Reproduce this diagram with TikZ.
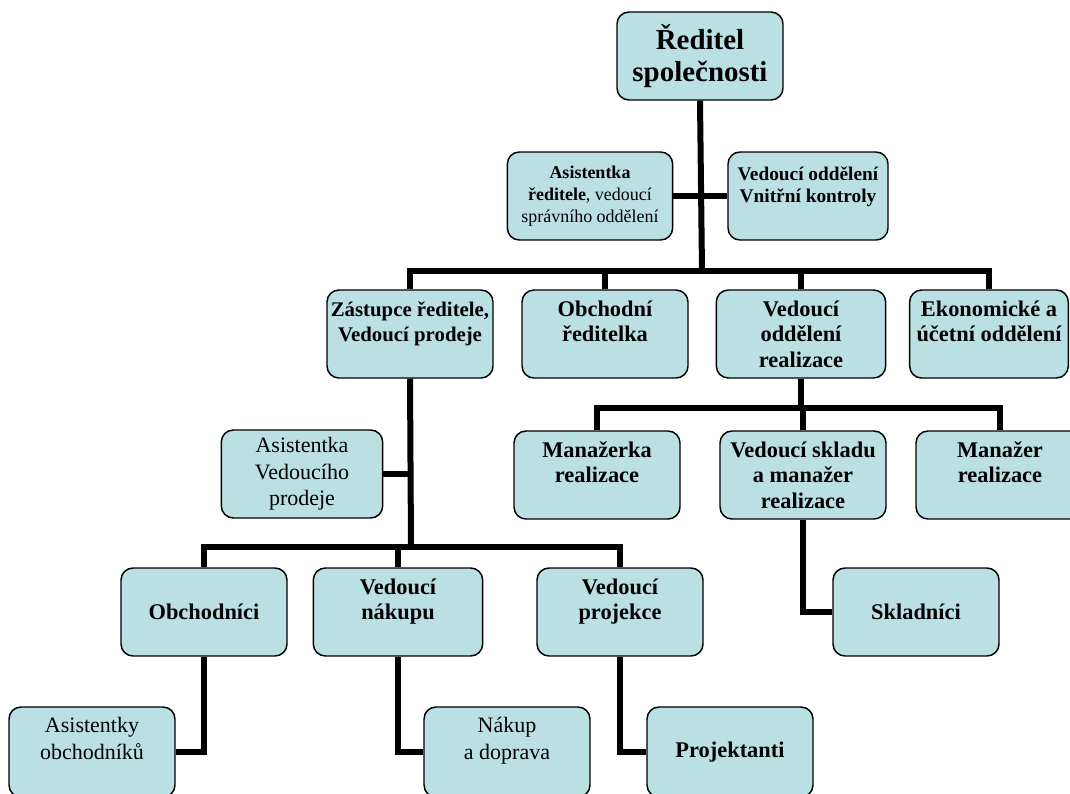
\documentclass[tikz,border=0pt]{standalone}
\usepackage{fontspec}
\setmainfont{Liberation Serif}
\usetikzlibrary{positioning,backgrounds}
\definecolor{boxblue}{RGB}{187,224,227}

\begin{document}
\begin{tikzpicture}[x=0.75pt,y=-0.75pt,
  box/.style={draw,fill=boxblue,rounded corners=9pt,line width=1.1pt,align=center,
    minimum width=124.5pt,minimum height=66pt,inner sep=2pt,
    font=\bfseries\fontsize{16.8}{19}\selectfont},
  plain/.style={font=\fontsize{16.5}{20}\selectfont},
  conn/.style={line width=4.5pt}]
   \useasboundingbox (0,0) rectangle (1070,793);
   \clip (0,0) rectangle (1070,793);
   % top
   \node[box,font=\bfseries\fontsize{21.7}{24}\selectfont] (dir) at (700,56) {Ředitel\\společnosti};
   \node[box,minimum width=124pt,font=\fontsize{13.5}{16.5}\selectfont] (asist) at (590,196)
        {\textbf{Asistentka}\\\textbf{ředitele}, vedoucí\\správního oddělení};
   \node[box,minimum width=120pt,font=\bfseries\fontsize{14.5}{17}\selectfont] (kontrola) at (808,196)
        {Vedoucí oddělení\\Vnitřní kontroly\\~};
   % second row
   \node[box,font=\bfseries\fontsize{15.6}{18.5}\selectfont] (zast) at (410,334) {Zástupce ředitele,\\Vedoucí prodeje\\~};
   \node[box]                   (obch)   at (605,334)  {Obchodní\\ředitelka\\~};
   \node[box,minimum width=127pt] (real) at (801,334)  {Vedoucí\\oddělení\\realizace};
   \node[box,minimum width=119pt] (ekon) at (989,334)  {Ekonomické a\\účetní oddělení\\~};
   % realizace
   \node[box]                   (manazerka) at (597,475) {Manažerka\\realizace\\~};
   \node[box]                   (sklad)     at (803,475) {Vedoucí skladu\\a manažer\\realizace};
   \node[box,minimum width=126pt] (manazer) at (1000,475) {Manažer\\realizace\\~};
   \node[box]                   (skladnici) at (916,612) {Skladníci};
   % prodej
   \node[box,plain,minimum width=121pt] (asistvp) at (302,474) {Asistentka\\Vedoucího\\prodeje};
   \node[box]                   (obchodnici) at (204,612) {Obchodníci};
   \node[box,minimum width=127pt] (nakup)  at (398,612) {Vedoucí\\nákupu\\~};
   \node[box]                   (projekce)   at (620,612) {Vedoucí\\projekce\\~};
   \node[box,plain,minimum height=67.5pt] (asistobch) at (92,752) {Asistentky\\obchodníků\\~};
   \node[box,plain,minimum height=67.5pt] (nakupdopr) at (507,752) {Nákup\\a doprava\\~};
   \node[box,minimum height=67.5pt]  (projektanti)   at (730,752) {Projektanti};

   \coordinate (b1) at (702,271);
   \coordinate (b2) at (801,408);
   \coordinate (b3) at (411,547);
   \coordinate (a3) at (411,474);
   \begin{scope}[on background layer]
    \draw[conn] (dir.south) -- (b1);
    \draw[conn] (asist.east) -- (kontrola.west);
    \draw[conn] (b1) -| (zast.north);
    \draw[conn] (b1) -| (obch.north);
    \draw[conn] (b1) -| (real.north);
    \draw[conn] (b1) -| (ekon.north);
    \draw[conn] (real.south) -- (b2);
    \draw[conn] (b2) -| (manazerka.north);
    \draw[conn] (b2) -| (sklad.north);
    \draw[conn] (b2) -| (manazer.north);
    \draw[conn] (sklad.south) |- (skladnici.west);
    \draw[conn] (zast.south) -- (b3);
    \draw[conn] (asistvp.east) -- (a3);
    \draw[conn] (b3) -| (obchodnici.north);
    \draw[conn] (b3) -| (nakup.north);
    \draw[conn] (b3) -| (projekce.north);
    \draw[conn] (obchodnici.south) |- (asistobch.east);
    \draw[conn] (nakup.south) |- (nakupdopr.west);
    \draw[conn] (projekce.south) |- (projektanti.west);
   \end{scope}
\end{tikzpicture}
\end{document}
